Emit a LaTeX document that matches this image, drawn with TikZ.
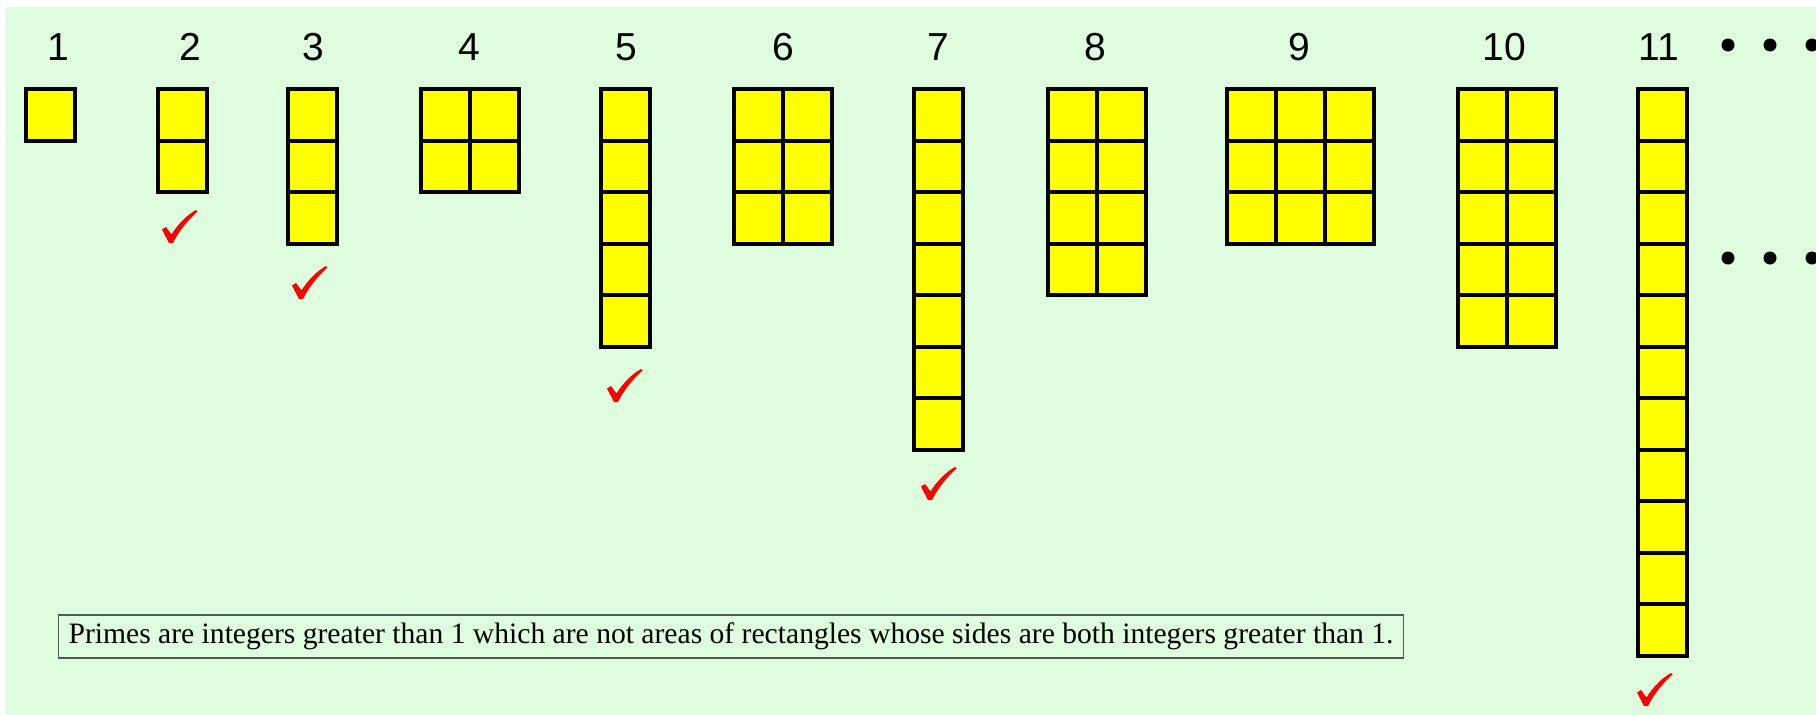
\documentclass[tikz,border=0pt]{standalone}
\usepackage{fontspec}
\setmainfont{Liberation Serif}
\newfontfamily\labelfont{Liberation Sans}
\definecolor{bggreen}{RGB}{222,253,222}
\definecolor{cellyellow}{RGB}{255,255,0}
\definecolor{checkred}{RGB}{255,0,0}
\definecolor{noteframe}{RGB}{80,90,80}
\tikzset{
  cellfill/.style={fill=cellyellow},
  cellline/.style={draw=black,line width=4pt,line cap=rect},
  numlabel/.style={font=\labelfont\fontsize{39}{39}\selectfont,anchor=base,inner sep=0pt},
  notebox/.style={draw=noteframe,line width=1.2pt,inner xsep=10pt,inner ysep=0pt,minimum height=43pt,
     font=\fontsize{29.6}{32}\selectfont},
  bigdot/.style={fill=black},
  checkmark/.pic={
    \fill[checkred] (0,19.5) -- (4,17) -- (9.5,24.5)
      .. controls (16,14) and (25,5) .. (34,0) -- (35.5,1.5)
      .. controls (26,10) and (17,21) .. (11,33) -- (7,33) -- cycle;
  }
}
\newcommand\primebox[3]{% #1 left x, #2 cols, #3 rows
  \begin{scope}[shift={(#1,89)}]
    \fill[cellfill] (0,0) rectangle (#2*49,#3*51.5);
    \ifnum#2>1
      \foreach \c in {2,...,#2}{\draw[cellline] ({(\c-1)*49},0) -- ({(\c-1)*49},#3*51.5);}
    \fi
    \ifnum#3>1
      \foreach \r in {2,...,#3}{\draw[cellline] (0,{(\r-1)*51.5}) -- (#2*49,{(\r-1)*51.5});}
    \fi
    \draw[cellline,line join=miter] (0,0) rectangle (#2*49,#3*51.5);
  \end{scope}
}
\begin{document}
\begin{tikzpicture}[x=1pt,y=-1pt]
  \useasboundingbox (0,0) rectangle (1816,715);
  \fill[white] (0,0) rectangle (1816,715);
  \fill[bggreen] (6,7) rectangle (1816,715);

  % number labels
  \node[numlabel] (n1)  at (58,60)   {1};
  \node[numlabel] (n2)  at (190,60)  {2};
  \node[numlabel] (n3)  at (313,60)  {3};
  \node[numlabel] (n4)  at (469,60)  {4};
  \node[numlabel] (n5)  at (626,60)  {5};
  \node[numlabel] (n6)  at (783,60)  {6};
  \node[numlabel] (n7)  at (938,60)  {7};
  \node[numlabel] (n8)  at (1095,60) {8};
  \node[numlabel] (n9)  at (1299,60) {9};
  \node[numlabel] (n10) at (1504,60) {10};
  \node[numlabel] (n11) at (1659,60) {11};

  % rectangles
  \primebox{26}{1}{1}
  \primebox{158}{1}{2}
  \primebox{288}{1}{3}
  \primebox{421}{2}{2}
  \primebox{601}{1}{5}
  \primebox{734}{2}{3}
  \primebox{914}{1}{7}
  \primebox{1048}{2}{4}
  \primebox{1227}{3}{3}
  \primebox{1458}{2}{5}
  \primebox{1638}{1}{11}

  % check marks
  \pic at (162,210) {checkmark};
  \pic at (292,266) {checkmark};
  \pic at (607,369) {checkmark};
  \pic at (921,467) {checkmark};
  \pic at (1637,673) {checkmark};

  % ellipsis dots
  \foreach \x in {1728,1770,1812}{
    \fill[bigdot] (\x,45) circle (6.5pt);
    \fill[bigdot] (\x,258) circle (6.5pt);
  }

  % note
  \node[notebox] (note) at (731,636.5)
    {Primes are integers greater than 1 which are not areas of rectangles whose sides are both integers greater than 1.};
\end{tikzpicture}
\end{document}
